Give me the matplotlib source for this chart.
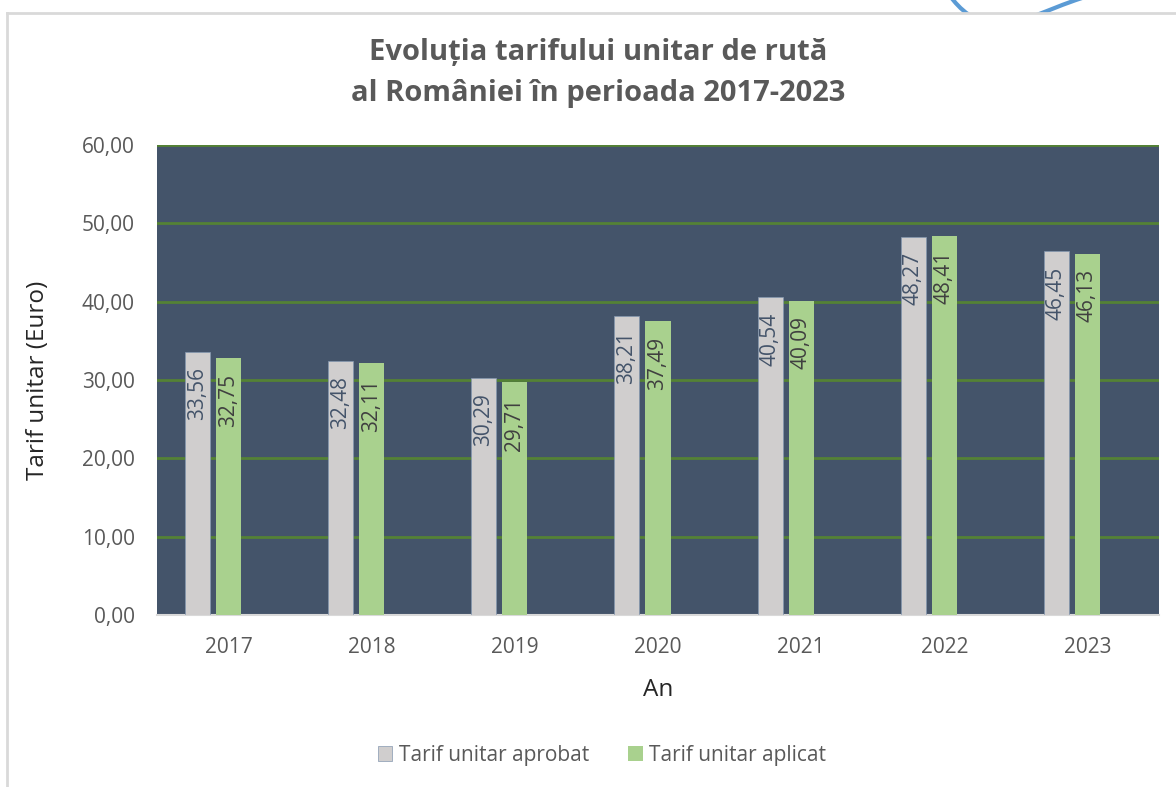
import matplotlib.pyplot as plt
import numpy as np
from matplotlib.patches import Rectangle, PathPatch
from matplotlib.path import Path
from matplotlib.lines import Line2D
from matplotlib.transforms import IdentityTransform

plt.rcParams['font.family'] = ['Open Sans', 'DejaVu Sans']

# date
ani = ['2017', '2018', '2019', '2020', '2021', '2022', '2023']
aprobat = [33.56, 32.48, 30.29, 38.21, 40.54, 48.27, 46.45]
aplicat = [32.75, 32.11, 29.71, 37.49, 40.09, 48.41, 46.13]

W, H = 1176, 787
fig = plt.figure(figsize=(W / 100, H / 100), dpi=100)

# decor: curba albastra taiata + chenar (pixeli, y de sus)
pts = [(950, -4), (959, 8), (975, 25), (1000, 24), (1025, 23), (1045, 10), (1082, -2)]
codes = [Path.MOVETO] + [Path.CURVE4] * 6
curve = Path([(px, H - py) for px, py in pts], codes)
fig.patches.append(PathPatch(curve, transform=IdentityTransform(), facecolor='none',
                             edgecolor='#5b9bd5', lw=3, zorder=-3))
fig.patches.append(Rectangle((7 / W, 0), 1, 1 - 13 / H, transform=fig.transFigure,
                             facecolor='white', edgecolor='none', zorder=-2))
fig.lines.append(Line2D([7 / W, 7 / W], [0, 1 - 13 / H], transform=fig.transFigure,
                        color='#d9d9d9', lw=2, zorder=-1))
fig.lines.append(Line2D([7 / W, 1], [1 - 13 / H, 1 - 13 / H], transform=fig.transFigure,
                        color='#d9d9d9', lw=2, zorder=-1))

ax = fig.add_axes([157 / W, (H - 615) / H, 1002 / W, 470 / H])
ax.set_facecolor('#44546a')

x = np.arange(len(ani))
w = 0.175
b1 = ax.bar(x - 0.217, aprobat, w, color='#d0cece', edgecolor='#8497b0', linewidth=0.5,
            label='Tarif unitar aprobat', zorder=3)
b2 = ax.bar(x, aplicat, w, color='#a9d18e', edgecolor='none',
            label='Tarif unitar aplicat', zorder=3)

for bars, vals, col in [(b1, aprobat, '#44546a'), (b2, aplicat, '#404040')]:
    for bar, v in zip(bars, vals):
        ax.annotate(f'{v:.2f}'.replace('.', ','),
                    (bar.get_x() + bar.get_width() / 2, v),
                    xytext=(0, -11), textcoords='offset points',
                    rotation=90, ha='center', va='top', fontsize=15, color=col, zorder=4)

ax.set_ylim(0, 60)
ax.set_xlim(-0.5, len(ani) - 0.5)
ax.set_yticks(np.arange(0, 61, 10))
ax.set_yticklabels([f'{v:.2f}'.replace('.', ',') for v in np.arange(0, 61, 10)])
ax.set_xticks(x)
ax.set_xticklabels(ani)
ax.grid(axis='y', color='#548235', lw=2, zorder=1)
ax.set_axisbelow(True)
for s in ['left', 'right', 'top']:
    ax.spines[s].set_visible(False)
ax.spines['bottom'].set_color('#d9d9d9')
ax.spines['bottom'].set_linewidth(1.5)
ax.tick_params(length=0, labelsize=15, labelcolor='#595959', pad=16)
ax.tick_params(axis='y', pad=16)

ax.set_ylabel('Tarif unitar (Euro)', fontsize=17.5, color='#262626', labelpad=23)
ax.set_xlabel('An', fontsize=17.5, color='#262626', labelpad=14)

fig.text(598 / W, 1 - 73 / H, 'Evoluția tarifului unitar de rută\nal României în perioada 2017-2023',
         ha='center', va='center', fontsize=21, fontweight='bold', color='#595959',
         linespacing=1.5)

fig.legend(handles=[b1, b2], loc='center', bbox_to_anchor=(602 / W, 1 - 755 / H),
           ncol=2, frameon=False, fontsize=15, handlelength=0.7, handleheight=0.7,
           handletextpad=0.3, columnspacing=1.9, labelcolor='#595959')

fig.savefig('out.png', dpi=100)
